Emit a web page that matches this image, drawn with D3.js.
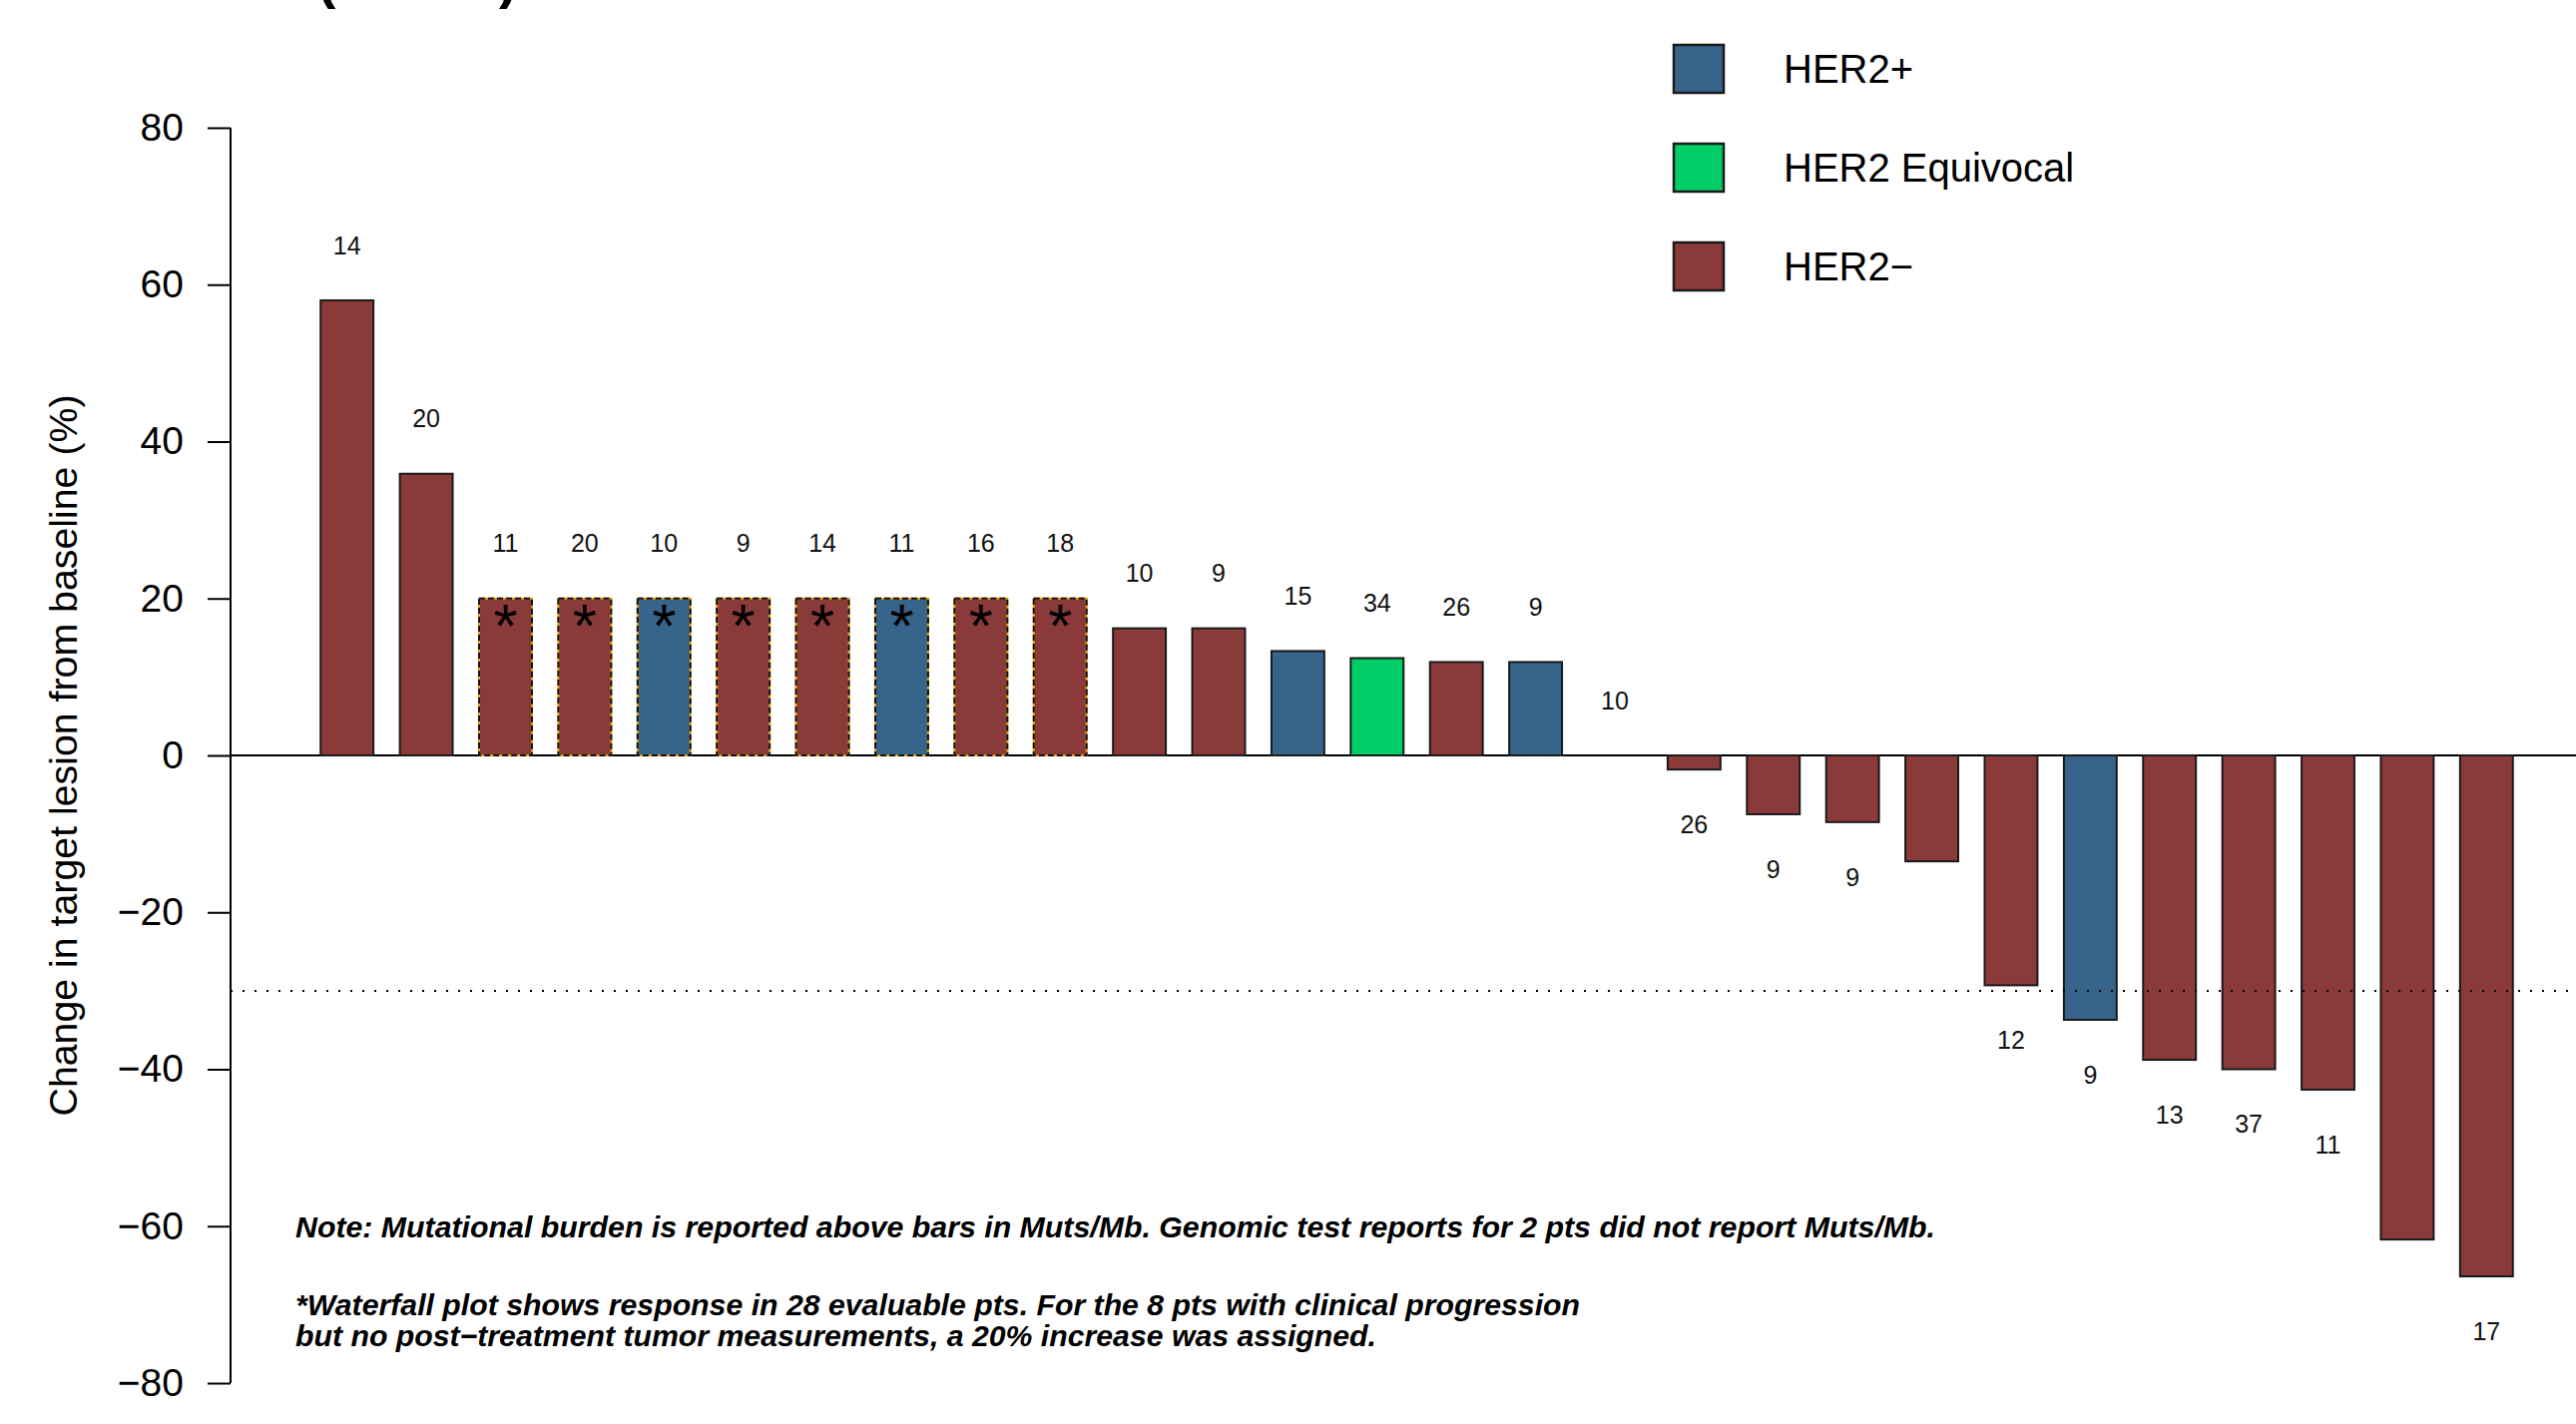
<!DOCTYPE html>
<html>
<head>
<meta charset="utf-8">
<script src="https://cdn.jsdelivr.net/npm/d3@7"></script>
<style>
  html, body { margin: 0; padding: 0; background: #fff; }
  svg { display: block; font-family: "Liberation Sans", Arial, Helvetica, sans-serif; }
</style>
</head>
<body>
<svg id="chart" width="2581" height="1427"></svg>
<script>
// Best change in target lesion size per patient, sorted high to low (%)
const patientIds = d3.range(1, 29).map(i => "Pt" + i);
const lesionChange = [58.0, 35.9, 20, 20, 20, 20, 20, 20, 20, 20,
  16.2, 16.2, 13.3, 12.4, 11.9, 11.9, 0, -1.8, -7.5, -8.5,
  -13.5, -29.3, -33.7, -38.8, -40.0, -42.6, -61.7, -66.4];
// HER2 status per patient
const her2Status = ["neg", "neg", "neg", "neg", "pos", "neg", "neg", "pos", "neg", "neg",
  "neg", "neg", "pos", "equiv", "neg", "pos", "neg", "neg", "neg", "neg",
  "neg", "neg", "pos", "neg", "neg", "neg", "neg", "neg"];
// Clinical progression without post-treatment measurement (20% assigned)
const progressionAssigned = [false, false, true, true, true, true, true, true, true, true,
  false, false, false, false, false, false, false, false, false, false,
  false, false, false, false, false, false, false, false];
// Tumor mutational burden (Muts/Mb); null where not reported
const mutBurden = [14, 20, 11, 20, 10, 9, 14, 11, 16, 18,
  10, 9, 15, 34, 26, 9, 10, 26, 9, 9,
  null, 12, 9, 13, 37, 11, null, 17];
const yTicks = [-80, -60, -40, -20, 0, 20, 40, 60, 80];
const legendKeys = ["pos", "equiv", "neg"];
const legendLabels = ["HER2+", "HER2 Equivocal", "HER2\u2212"];
const responseThreshold = -30;
const noteLines = [
  "Note: Mutational burden is reported above bars in Muts/Mb. Genomic test reports for 2 pts did not report Muts/Mb.",
  "*Waterfall plot shows response in 28 evaluable pts. For the 8 pts with clinical progression",
  "but no post\u2212treatment tumor measurements, a 20% increase was assigned."
];

const colors = { pos: "#36648B", equiv: "#00CD66", neg: "#8B3A3A" };

const rows = patientIds.map((id, i) => ({
  id, value: lesionChange[i], status: her2Status[i],
  assigned: progressionAssigned[i], tmb: mutBurden[i]
}));

const W = 2581, H = 1427;
const svg = d3.select("#chart");

const axisX = 231;
const x = d3.scaleBand().domain(patientIds).range([308, 2531])
  .paddingInner(1 / 3).paddingOuter(1 / 6);
const y = d3.scaleLinear().domain([-80, 80]).range([1386, 128]);

// Title (runs off the top edge)
svg.append("text")
  .attr("x", 318).attr("y", -3)
  .attr("font-size", 55).attr("font-weight", "bold")
  .attr("fill", "#000")
  .text("(N = 28)");

// Zero line
svg.append("line")
  .attr("x1", axisX).attr("x2", W)
  .attr("y1", y(0)).attr("y2", y(0))
  .attr("stroke", "#000").attr("stroke-width", 2);

// Bars
const barG = svg.append("g");
barG.selectAll("rect.bar")
  .data(rows.filter(d => d.value !== 0))
  .join("rect")
  .attr("class", "bar")
  .attr("x", d => x(d.id))
  .attr("width", x.bandwidth())
  .attr("y", d => y(Math.max(0, d.value)))
  .attr("height", d => Math.abs(y(d.value) - y(0)))
  .attr("fill", d => colors[d.status])
  .attr("stroke", d => d.assigned ? "#e8a317" : "#1a1a1a")
  .attr("stroke-width", 2);

// Dashed outline for bars with an assigned value
barG.selectAll("rect.dash")
  .data(rows.filter(d => d.assigned))
  .join("rect")
  .attr("class", "dash")
  .attr("x", d => x(d.id))
  .attr("width", x.bandwidth())
  .attr("y", d => y(Math.max(0, d.value)))
  .attr("height", d => Math.abs(y(d.value) - y(0)))
  .attr("fill", "none")
  .attr("stroke", "#111")
  .attr("stroke-width", 2)
  .attr("stroke-dasharray", "6,3");

// Partial response threshold
svg.append("line")
  .attr("x1", axisX).attr("x2", W)
  .attr("y1", y(responseThreshold)).attr("y2", y(responseThreshold))
  .attr("stroke", "#000").attr("stroke-width", 2)
  .attr("stroke-dasharray", "2,10");

// Asterisks on assigned bars
const starSize = 62;
svg.append("g").selectAll("text")
  .data(rows.filter(d => d.assigned))
  .join("text")
  .attr("x", d => x(d.id) + x.bandwidth() / 2)
  .attr("y", d => y(d.value) + starSize * 0.78)
  .attr("text-anchor", "middle")
  .attr("font-size", starSize)
  .attr("fill", "#000")
  .text("*");

// Mutational burden labels
svg.append("g").selectAll("text")
  .data(rows.filter(d => d.tmb !== null))
  .join("text")
  .attr("x", d => x(d.id) + x.bandwidth() / 2)
  .attr("y", d => y(d.value + (d.value >= 0 ? 7 : -7)))
  .attr("dy", "0.35em")
  .attr("text-anchor", "middle")
  .attr("font-size", 25)
  .attr("fill", "#111")
  .text(d => d.tmb);

// Y axis
const yAxis = d3.axisLeft(y).tickValues(yTicks).tickSize(23).tickPadding(24)
  .tickFormat(d3.format("d"));
const yG = svg.append("g").attr("transform", `translate(${axisX},0)`).call(yAxis);
yG.select(".domain").attr("d", `M-0,${y(-80)}V${y(80)}`).attr("stroke", "#000").attr("stroke-width", 2);
yG.selectAll(".tick line").attr("stroke", "#000").attr("stroke-width", 2);
yG.selectAll(".tick text").attr("font-size", 39).attr("fill", "#000")
  .attr("font-family", "'Liberation Sans', Arial, sans-serif");

svg.append("text")
  .attr("transform", `translate(63,${(y(-80) + y(80)) / 2}) rotate(-90)`)
  .attr("text-anchor", "middle")
  .attr("dy", "0.35em")
  .attr("font-size", 39.3)
  .attr("fill", "#000")
  .text("Change in target lesion from baseline (%)");

// Legend
const legend = svg.append("g");
legendKeys.forEach((k, i) => {
  const cy = 69 + i * 99;
  legend.append("rect")
    .attr("x", 1677).attr("y", cy - 24)
    .attr("width", 50).attr("height", 48)
    .attr("fill", colors[k]).attr("stroke", "#1a1a1a").attr("stroke-width", 2.5);
  legend.append("text")
    .attr("x", 1787).attr("y", cy).attr("dy", "0.36em")
    .attr("font-size", 40).attr("fill", "#000")
    .text(legendLabels[i]);
});

// Notes
const noteY = [1240, 1318, 1349];
const noteWidth = [1643, 1287, 1083];
svg.append("g").selectAll("text")
  .data(noteLines)
  .join("text")
  .attr("x", 296)
  .attr("y", (d, i) => noteY[i])
  .attr("font-size", 30)
  .attr("font-weight", "bold")
  .attr("font-style", "italic")
  .attr("fill", "#000")
  .attr("textLength", (d, i) => noteWidth[i])
  .attr("lengthAdjust", "spacingAndGlyphs")
  .text(d => d);
</script>
</body>
</html>
